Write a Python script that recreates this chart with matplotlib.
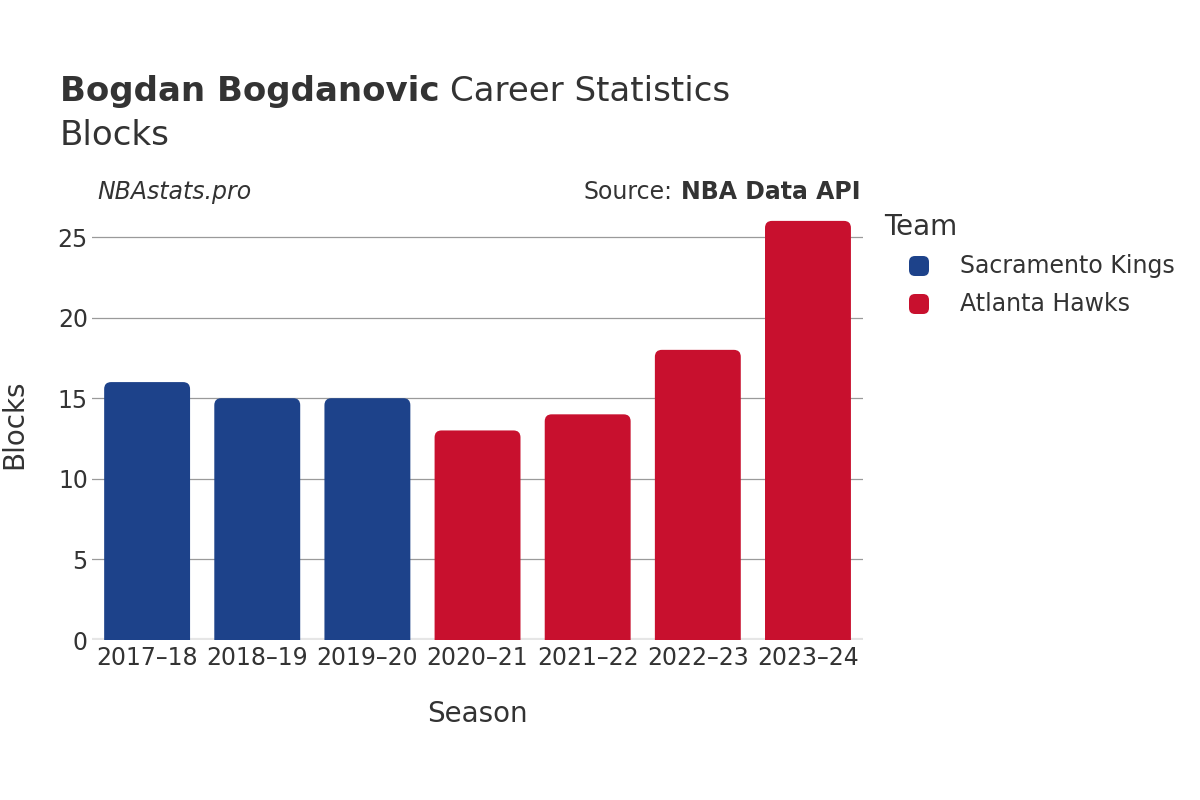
import matplotlib.pyplot as plt
from matplotlib.path import Path
from matplotlib.patches import PathPatch, FancyBboxPatch
from matplotlib.transforms import IdentityTransform

# === DANE ===
seasons = ["2017–18", "2018–19", "2019–20", "2020–21", "2021–22", "2022–23", "2023–24"]
blocks = [16, 15, 15, 13, 14, 18, 26]
teams = ["Sacramento Kings", "Sacramento Kings", "Sacramento Kings",
         "Atlanta Hawks", "Atlanta Hawks", "Atlanta Hawks", "Atlanta Hawks"]
team_order = ["Sacramento Kings", "Atlanta Hawks"]
team_colors = {"Sacramento Kings": "#1D428A", "Atlanta Hawks": "#C8102E"}

TXT = "#333333"
W, H = 1200, 800
plt.rcParams['font.family'] = ['DejaVu Sans']

fig = plt.figure(figsize=(12, 8), dpi=100)
ax = fig.add_axes([0.0767, 0.2, 0.6425, 0.54])

x = list(range(len(seasons)))
bars = ax.bar(x, blocks, width=0.78, color="none", edgecolor="none", zorder=3)
ax.set_xlim(-0.5, len(seasons) - 0.5)
ax.set_ylim(0, 26.8)

ax.set_yticks([0, 5, 10, 15, 20, 25])
ax.grid(axis='y', color="#9a9a9a", linewidth=0.9, zorder=0)
ax.set_axisbelow(True)
for s in ax.spines.values():
    s.set_visible(False)
ax.tick_params(axis='both', length=0, labelsize=17, labelcolor=TXT)
ax.tick_params(axis='y', pad=3)
ax.tick_params(axis='x', pad=4)
ax.set_xticks(x)
ax.set_xticklabels(seasons)
ax.axhline(0, color="#e6e6e6", linewidth=3, zorder=2)

ax.set_xlabel("Season", fontsize=20, color=TXT, labelpad=22)
ax.set_ylabel("Blocks", fontsize=20, color=TXT, labelpad=21)

# zaokrąglone górne rogi słupków (w pikselach)
fig.canvas.draw()
r = 7
for b, t in zip(bars, teams):
    (x0, y0) = ax.transData.transform((b.get_x(), 0))
    (x1, y1) = ax.transData.transform((b.get_x() + b.get_width(), b.get_height()))
    verts = [(x0, y0), (x0, y1 - r), (x0, y1), (x0 + r, y1),
             (x1 - r, y1), (x1, y1), (x1, y1 - r), (x1, y0), (x0, y0)]
    codes = [Path.MOVETO, Path.LINETO, Path.CURVE3, Path.CURVE3,
             Path.LINETO, Path.CURVE3, Path.CURVE3, Path.LINETO, Path.CLOSEPOLY]
    p = PathPatch(Path(verts, codes), facecolor=team_colors[t], edgecolor="none",
                  transform=IdentityTransform(), zorder=3)
    ax.add_artist(p)

# === TYTUŁY ===
t1 = fig.text(0.05, 0.874, "Bogdan Bogdanovic", fontsize=24.5, fontweight='bold', color=TXT, va='baseline')
fig.canvas.draw()
bb = t1.get_window_extent()
fig.text(bb.x1 / W + 0.009, 0.874, "Career Statistics", fontsize=24.5, color=TXT, va='baseline')
fig.text(0.05, 0.819, "Blocks", fontsize=24.5, color=TXT, va='baseline')

fig.text(0.081, 0.751, "NBAstats.pro", fontsize=17, style='italic', color=TXT, va='baseline')
s2 = fig.text(0.717, 0.751, "NBA Data API", fontsize=17, fontweight='bold', color=TXT, va='baseline', ha='right')
fig.canvas.draw()
bb2 = s2.get_window_extent()
fig.text(bb2.x0 / W - 0.007, 0.751, "Source:", fontsize=17, color=TXT, va='baseline', ha='right')

# === LEGENDA (ręcznie) ===
fig.text(884 / W, 1 - 227 / H, "Team", fontsize=20, color=TXT, va='center', ha='left')
for i, tm in enumerate(team_order):
    yc = 266 + 38 * i
    box = FancyBboxPatch((909 / W, 1 - (yc + 10) / H), 20 / W, 20 / H,
                         boxstyle="round,pad=0,rounding_size=0.005",
                         facecolor=team_colors[tm], edgecolor="none",
                         transform=fig.transFigure, mutation_aspect=1.5)
    fig.add_artist(box)
    fig.text(960 / W, 1 - yc / H, tm, fontsize=17, color=TXT, va='center', ha='left')

fig.savefig("out.png", dpi=100)
